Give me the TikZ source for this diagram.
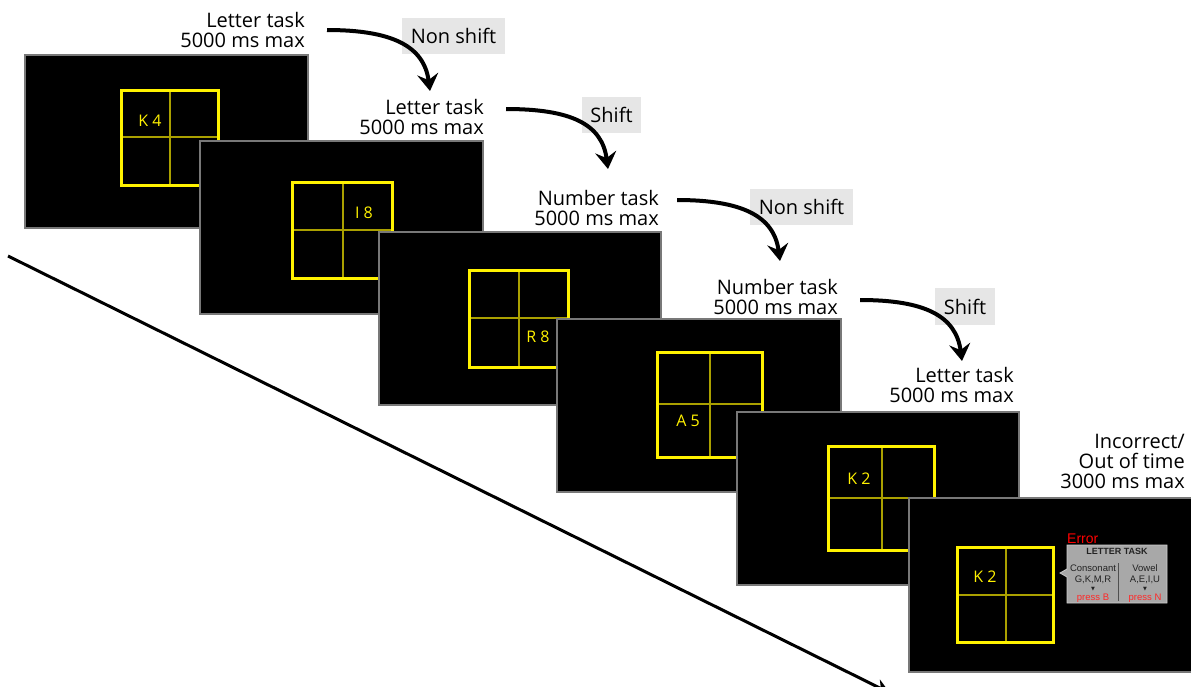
\documentclass[tikz,border=0pt]{standalone}
\usepackage{fontspec}
\setmainfont{Open Sans}
\newfontfamily\arialf{Liberation Sans}
\newfontfamily\dejavu{DejaVu Sans}
\usetikzlibrary{arrows.meta}
\definecolor{scrborder}{RGB}{120,120,120}
\definecolor{gridinner}{RGB}{170,160,0}
\definecolor{boxgray}{RGB}{230,230,230}
\definecolor{popgray}{RGB}{168,168,168}
\definecolor{popedge}{RGB}{205,205,205}
\definecolor{pressred}{RGB}{255,40,40}
\definecolor{poptext}{RGB}{35,35,35}
\tikzset{
  screen/.style={fill=black, draw=scrborder, line width=1.5pt},
  gridout/.style={draw=yellow, line width=3pt},
  gridin/.style={draw=gridinner, line width=1.3pt},
  celltxt/.style={text=yellow, font=\fontsize{16}{16}\selectfont, inner sep=0},
  tasklbl/.style={align=right, anchor=north east, inner sep=0, font=\fontsize{20}{20}\selectfont},
  cond/.style={fill=boxgray, font=\fontsize{20}{20}\selectfont, inner sep=0},
  flow/.style={line width=4pt, -{Stealth[length=17pt,width=21pt,inset=6pt]}},
  poptxt/.style={text=poptext, font=\arialf\fontsize{9.5}{9.5}\selectfont, inner sep=0},
  popred/.style={text=pressred, font=\arialf\fontsize{9.5}{9.5}\selectfont, inner sep=0},
}
\begin{document}
\begin{tikzpicture}[x=1pt,y=-1pt]
\useasboundingbox (0,0) rectangle (1191,686);
\fill[white] (0,0) rectangle (1191,686);

% diagonal time arrow
\coordinate (d0) at (8,256);
\coordinate (d1) at (890,693);
\draw[line width=3pt, -{Stealth[length=15pt,width=15pt]}] (d0) -- (d1);

% screen 1
\draw[screen] (25,55) rectangle (308,228);
\draw[gridin] (170,90) -- (170,185) (121,137) -- (218,137);
\draw[gridout] (121,90) rectangle (218,185);
\node[celltxt] (c1) at (150,121) {K 4};

% screen 2
\draw[screen] (200,141) rectangle (483,314);
\draw[gridin] (343,182) -- (343,278) (292,230) -- (392,230);
\draw[gridout] (292,182) rectangle (392,278);
\node[celltxt] (c2) at (364,213) {I 8};

% screen 3
\draw[screen] (379,232) rectangle (661,405);
\draw[gridin] (519,270) -- (519,367) (469,318) -- (568,318);
\draw[gridout] (469,270) rectangle (568,367);
\node[celltxt] (c3) at (538,337) {R 8};

% screen 4
\draw[screen] (557,319) rectangle (841,492);
\draw[gridin] (710,352) -- (710,457) (657,404) -- (762,404);
\draw[gridout] (657,352) rectangle (762,457);
\node[celltxt] (c4) at (688,421) {A 5};

% screen 5
\draw[screen] (737,412) rectangle (1019,585);
\draw[gridin] (882,446) -- (882,550) (828,498) -- (934,498);
\draw[gridout] (828,446) rectangle (934,550);
\node[celltxt] (c5) at (859,479) {K 2};

% screen 6
\draw[screen] (909,498) rectangle (1192,672);
\draw[gridin] (1006,547) -- (1006,642) (957,595) -- (1053,595);
\draw[gridout] (957,547) rectangle (1053,642);
\node[celltxt] (c6) at (985,577) {K 2};

% error popup
\node[text=red, font=\arialf\fontsize{14}{14}\selectfont, anchor=base west, inner sep=0] (err) at (1067,543) {Error};
\draw[fill=popgray, draw=popedge, line width=0.8pt] (1067,545) -- (1167,545) -- (1167,603) -- (1067,603) -- (1067,577) -- (1060,573) -- (1067,569) -- cycle;
\node[text=poptext, font=\arialf\bfseries\fontsize{9}{9}\selectfont, inner sep=0] (ptitle) at (1117,551) {LETTER TASK};
\draw[draw=poptext!80, line width=0.8pt] (1118,563) -- (1118,601);
\node[poptxt] (pl1) at (1093,568) {Consonant};
\node[poptxt] (pl2) at (1093,580) {G,K,M,R};
\node[text=poptext, font=\dejavu\fontsize{5}{5}\selectfont, inner sep=0] (pl3) at (1093,589) {▼};
\node[popred] (pl4) at (1093,598) {press B};
\node[poptxt] (pr1) at (1145,568) {Vowel};
\node[poptxt] (pr2) at (1145,580) {A,E,I,U};
\node[text=poptext, font=\dejavu\fontsize{5}{5}\selectfont, inner sep=0] (pr3) at (1145,589) {▼};
\node[popred] (pr4) at (1145,598) {press N};

% task labels
\node[tasklbl] (l1) at (305,12) {Letter task\\5000 ms max};
\node[tasklbl] (l2) at (484,99) {Letter task\\5000 ms max};
\node[tasklbl] (l3) at (659,190) {Number task\\5000 ms max};
\node[tasklbl] (l4) at (838,279) {Number task\\5000 ms max};
\node[tasklbl] (l5) at (1014,367) {Letter task\\5000 ms max};
\node[tasklbl] (l6) at (1185,434) {Incorrect/\\Out of time\\3000 ms max};

% condition boxes
\node[cond, minimum width=103pt, minimum height=36pt] (b1) at (453.5,36) {Non shift};
\node[cond, minimum width=59pt, minimum height=36pt] (b2) at (611.5,115) {Shift};
\node[cond, minimum width=103pt, minimum height=36pt] (b3) at (801.5,207) {Non shift};
\node[cond, minimum width=60pt, minimum height=37pt] (b4) at (965,306.5) {Shift};

% transition arrows
\coordinate (a1s) at (327,30);  \coordinate (a1e) at (430,91);
\coordinate (a2s) at (506,109); \coordinate (a2e) at (608,169);
\coordinate (a3s) at (677,200); \coordinate (a3e) at (780,261);
\coordinate (a4s) at (860,300); \coordinate (a4e) at (962,361);
\foreach \i in {1,2,3,4}
  \draw[flow] (a\i s) .. controls +(65,0) and +(-6,-45) .. (a\i e);
\end{tikzpicture}
\end{document}
